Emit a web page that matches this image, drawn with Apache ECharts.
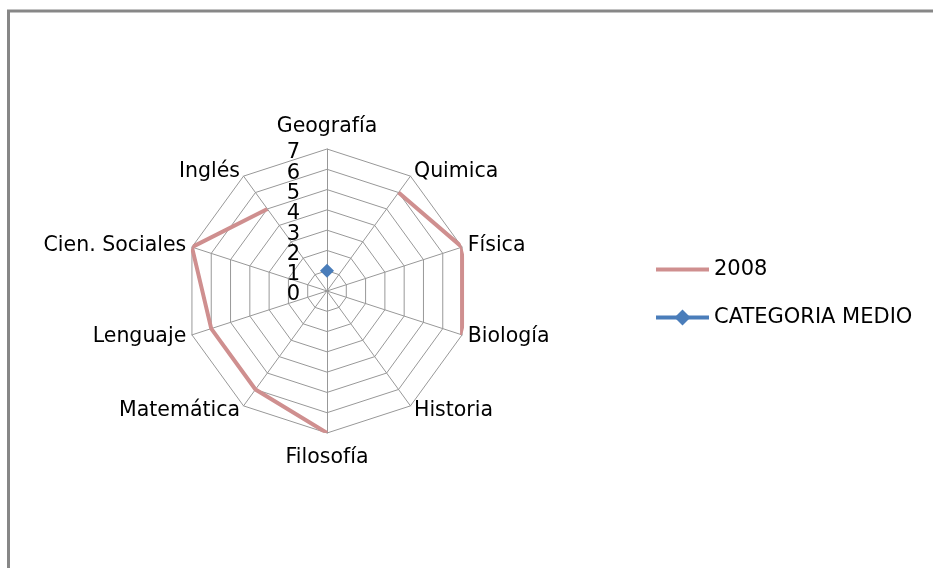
<!DOCTYPE html>
<html>
<head>
<meta charset="utf-8">
<script src="https://cdn.jsdelivr.net/npm/echarts@6/dist/echarts.min.js"></script>
<style>
  html, body { margin: 0; padding: 0; background: #fff; }
  #myChart { width: 933px; height: 568px; }
</style>
</head>
<body>
<div id="myChart"></div>
<script>
// categorias en el sentido de las agujas del reloj, desde arriba
var categorias = ["Geografía", "Quimica", "Física", "Biología", "Historia", "Filosofía", "Matemática", "Lenguaje", "Cien. Sociales", "Inglés"];
var serie2008 = ["-", 6, 7, 7, "-", 7, 6, 6, 7, 5];
var serieMedio = [1, "-", "-", "-", "-", "-", "-", "-", "-", "-"];
var escala = ["0", "1", "2", "3", "4", "5", "6", "7"];

var centro = [327, 291];
var radio = 142;
var fuente = "DejaVu Sans";
var maximo = escala.length - 1;

// el radar de echarts va en sentido contrario, se invierte el orden
var indicadores = [categorias[0]].concat(categorias.slice(1).reverse()).map(function (n) {
  return { name: n, max: maximo, min: 0 };
});

var ejeAngulo = {
  type: "category",
  data: categorias,
  startAngle: 90,
  clockwise: true,
  boundaryGap: false,
  axisLine: { show: false },
  axisTick: { show: false },
  axisLabel: { show: false },
  splitLine: { show: false }
};

var myChart = echarts.init(document.getElementById("myChart"));
myChart.setOption({
  animation: false,
  textStyle: { fontFamily: fuente },
  graphic: [
    {
      type: "rect",
      shape: { x: 8.5, y: 11, width: 2000, height: 2000 },
      style: { fill: "none", stroke: "#878787", lineWidth: 3 },
      silent: true
    }
  ],
  legend: {
    orient: "vertical",
    left: 649,
    top: 254,
    itemWidth: 53,
    itemHeight: 20,
    itemGap: 27,
    lineStyle: { width: 4 },
    textStyle: { fontSize: 21, color: "#000", fontFamily: fuente },
    data: [
      { name: "2008", icon: "path://M0,0L50,0L50,4L0,4Z" },
      { name: "CATEGORIA MEDIO" }
    ]
  },
  radar: {
    center: centro,
    radius: radio,
    startAngle: 90,
    splitNumber: maximo,
    shape: "polygon",
    indicator: indicadores,
    nameGap: 6,
    axisName: {
      color: "#000",
      fontSize: 20.5,
      fontFamily: fuente,
      formatter: function (n) {
        if (n === categorias[0]) return "{t|" + n + "}";
        if (n === categorias[5]) return "{b|" + n + "}";
        return n;
      },
      rich: {
        t: { fontSize: 20.5, fontFamily: fuente, color: "#000", padding: [0, 0, 6, 0] },
        b: { fontSize: 20.5, fontFamily: fuente, color: "#000", padding: [8, 0, 0, 0] }
      }
    },
    axisLine: { lineStyle: { color: "#989898", width: 1 } },
    splitLine: { lineStyle: { color: "#989898", width: 1 } },
    splitArea: { show: false }
  },
  // polar 0: series, polar 1: solo las etiquetas 0..7
  polar: [
    { center: centro, radius: radio },
    { center: centro, radius: radio }
  ],
  angleAxis: [
    Object.assign({ polarIndex: 0 }, ejeAngulo),
    Object.assign({ polarIndex: 1 }, ejeAngulo)
  ],
  radiusAxis: [
    {
      polarIndex: 0,
      type: "value",
      min: 0,
      max: maximo,
      interval: 1,
      axisLine: { show: false },
      axisTick: { show: false },
      splitLine: { show: false },
      axisLabel: { show: false }
    },
    {
      polarIndex: 1,
      type: "category",
      data: escala,
      boundaryGap: false,
      axisLine: { show: false },
      axisTick: { show: false },
      splitLine: { show: false },
      axisLabel: {
        show: true,
        interval: 0,
        margin: 27,
        fontSize: 21,
        lineHeight: 8,
        verticalAlign: "top",
        color: "#000",
        fontFamily: fuente
      },
      z: 5
    }
  ],
  series: [
    {
      name: "2008",
      type: "line",
      coordinateSystem: "polar",
      polarIndex: 0,
      data: serie2008,
      showSymbol: false,
      symbol: "none",
      connectNulls: false,
      lineStyle: { color: "#cf8f8f", width: 4 },
      itemStyle: { color: "#cf8f8f" },
      z: 3
    },
    {
      name: "CATEGORIA MEDIO",
      type: "line",
      coordinateSystem: "polar",
      polarIndex: 0,
      data: serieMedio,
      symbol: "diamond",
      symbolSize: 14,
      showAllSymbol: true,
      connectNulls: false,
      lineStyle: { color: "#4a7dba", width: 4 },
      itemStyle: { color: "#4a7dba" },
      z: 4
    }
  ]
});
</script>
</body>
</html>
